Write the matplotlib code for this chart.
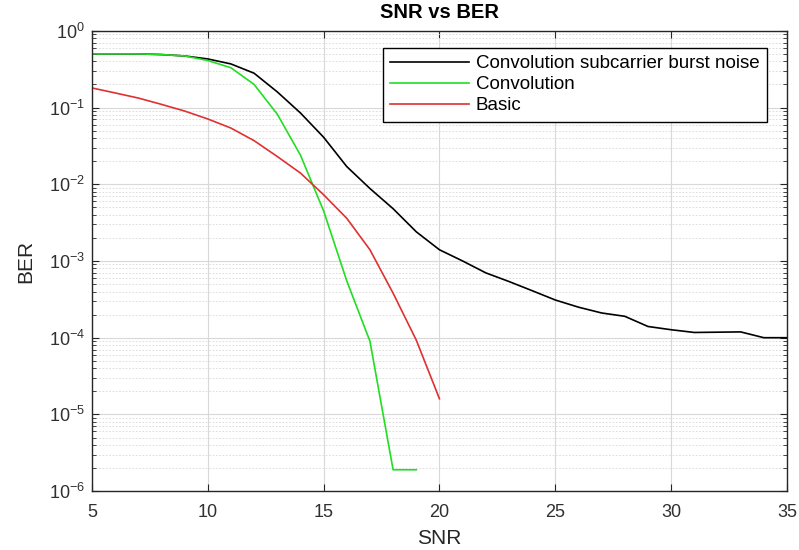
import matplotlib
matplotlib.use("Agg")
import matplotlib.pyplot as plt
from matplotlib.ticker import LogLocator, NullFormatter, MultipleLocator

plt.rcParams["font.family"] = ["Liberation Sans", "DejaVu Sans"]

# values
snr_burst = list(range(5, 36))
ber_burst = [0.5, 0.5, 0.5, 0.49, 0.47, 0.43, 0.37, 0.28, 0.16, 0.085,
             0.041, 0.017, 0.0088, 0.0048, 0.0024, 0.0014, 0.001, 7.0e-4,
             5.4e-4, 4.1e-4, 3.1e-4, 2.5e-4, 2.1e-4, 1.9e-4, 1.4e-4,
             1.27e-4, 1.17e-4, 1.18e-4, 1.19e-4, 1.0e-4, 1.0e-4]

snr_conv = list(range(5, 20))
ber_conv = [0.5, 0.5, 0.5, 0.49, 0.47, 0.41, 0.33, 0.2, 0.082, 0.024,
            0.0045, 5.5e-4, 9.0e-5, 1.9e-6, 1.9e-6]

snr_basic = list(range(5, 21))
ber_basic = [0.18, 0.155, 0.133, 0.11, 0.09, 0.071, 0.054, 0.037, 0.023,
             0.014, 0.0073, 0.0036, 0.0014, 3.8e-4, 9.3e-5, 1.6e-5]

labels = ["Convolution subcarrier burst noise", "Convolution", "Basic"]


def plot_ber():
    fig = plt.figure(figsize=(7.99, 5.5), dpi=100)
    ax = fig.add_axes([0.115, 0.107, 0.87, 0.837])

    ax.semilogy(snr_burst, ber_burst, color="black", lw=1.2, label=labels[0])
    ax.semilogy(snr_conv, ber_conv, color="#22dd22", lw=1.2, label=labels[1])
    ax.semilogy(snr_basic, ber_basic, color="#e03030", lw=1.2, label=labels[2])

    ax.set_xlim(5, 35)
    ax.set_ylim(1e-6, 1)
    ax.xaxis.set_major_locator(MultipleLocator(5))
    ax.yaxis.set_major_locator(LogLocator(base=10, numticks=10))
    ax.yaxis.set_minor_locator(LogLocator(base=10, subs=range(2, 10), numticks=10))
    ax.yaxis.set_minor_formatter(NullFormatter())

    ax.grid(which="major", color="#d8d8d8", lw=0.8, ls="-")
    ax.grid(which="minor", axis="y", color="#d8d8d8", lw=0.6, ls=(0, (2, 2)))
    ax.set_axisbelow(True)

    ax.tick_params(which="both", direction="in", top=True, right=True,
                   colors="#262626", labelcolor="#303030")
    ax.tick_params(which="major", length=5, labelsize=13)
    ax.tick_params(axis="x", which="major", pad=9)
    ax.tick_params(axis="y", which="major", pad=5)
    ax.tick_params(which="minor", length=3)
    for s in ax.spines.values():
        s.set_color("#262626")
        s.set_linewidth(1.0)

    ax.set_xlabel("SNR", fontsize=15, color="#262626", labelpad=6)
    ax.set_ylabel("BER", fontsize=15, color="#262626", labelpad=10)
    ax.set_title("SNR vs BER", fontsize=14.5, fontweight="bold", pad=9)

    leg = ax.legend(loc="upper right", bbox_to_anchor=(0.971, 0.963),
                    borderaxespad=0, fontsize=13.5, handlelength=4.2,
                    handletextpad=0.35, fancybox=False, edgecolor="black",
                    framealpha=1, labelspacing=0.2, borderpad=0.4)
    leg.get_frame().set_linewidth(1.0)

    fig.savefig("out.png", dpi=100)


if __name__ == "__main__":
    plot_ber()
